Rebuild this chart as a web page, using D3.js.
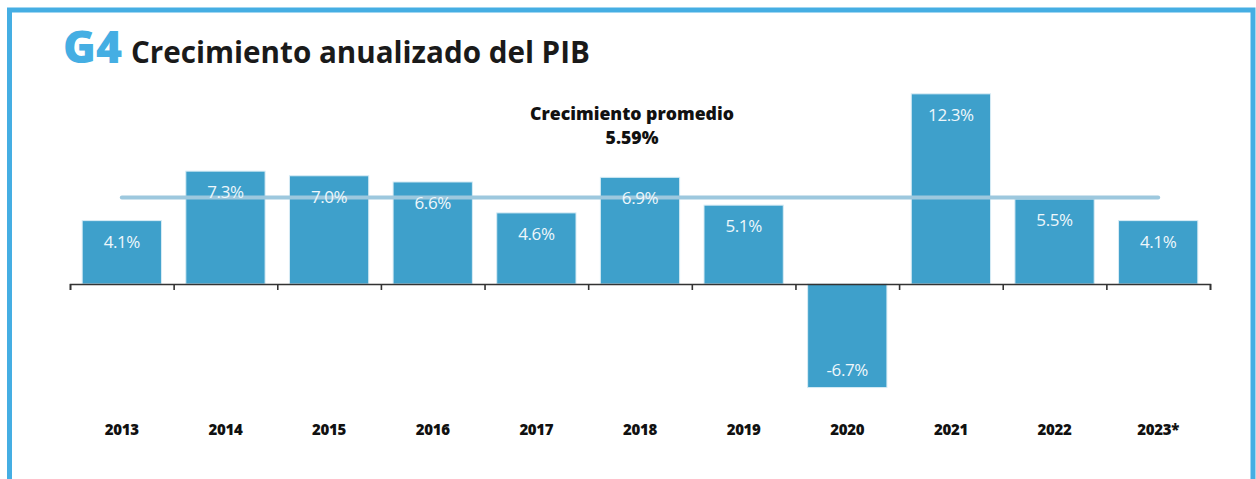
<!DOCTYPE html>
<html>
<head>
<meta charset="utf-8">
<script src="https://cdn.jsdelivr.net/npm/d3@7"></script>
<style>
  html, body { margin: 0; padding: 0; background: #fff; }
  svg { display: block; }
</style>
</head>
<body>
<div id="graf"></div>
<script>
// Data
const years = ["2013", "2014", "2015", "2016", "2017", "2018", "2019", "2020", "2021", "2022", "2023*"];
const growth = [4.1, 7.3, 7.0, 6.6, 4.6, 6.9, 5.1, -6.7, 12.3, 5.5, 4.1];
const average = 5.59;
const yDomain = [-6.7, 12.3];

const W = 1256, H = 479;
const FONT = "'Open Sans', Lato, sans-serif";
const svg = d3.select("#graf")
  .append("svg")
  .attr("width", W)
  .attr("height", H);

// shrink/grow a text's font size so it spans the wanted width
function fitWidth(sel, target) {
  const w = sel.node().getComputedTextLength();
  const fs = +sel.attr("font-size");
  sel.attr("font-size", (fs * target / w).toFixed(2));
}

// Frame
svg.append("path")
  .attr("d", `M9.5,${H + 5} L9.5,10 L1253,10 L1253,${H + 5}`)
  .attr("fill", "none")
  .attr("stroke", "#45aee3")
  .attr("stroke-width", 5);
svg.append("rect")
  .attr("x", 1251.5).attr("y", 10).attr("width", 3).attr("height", H)
  .attr("fill", "#45aee3");

// Title
const g4 = svg.append("text")
  .attr("x", 63).attr("y", 63)
  .attr("font-family", FONT)
  .attr("font-weight", 800)
  .attr("font-size", 38)
  .attr("fill", "#45aee3")
  .text("G4");
fitWidth(g4, 59);
const ttl = svg.append("text")
  .attr("x", 131).attr("y", 63)
  .attr("font-family", FONT)
  .attr("font-weight", 700)
  .attr("font-size", 26)
  .attr("fill", "#1a1a1a")
  .text("Crecimiento anualizado del PIB");
fitWidth(ttl, 459);

// Scales
const x = d3.scaleBand()
  .domain(years)
  .range([70, 1210])
  .paddingInner(0.235)
  .paddingOuter(0.1175);

const y = d3.scaleLinear()
  .domain(yDomain)
  .range([284 + 6.7 * 15.46, 284 - 12.3 * 15.46]);

// Bars
svg.append("g")
  .selectAll("rect")
  .data(growth)
  .join("rect")
  .attr("x", (d, i) => x(years[i]))
  .attr("y", d => y(Math.max(0, d)))
  .attr("width", x.bandwidth())
  .attr("height", d => Math.abs(y(d) - y(0)))
  .attr("fill", "#3ea0cb")
  .attr("stroke", "#d8ecf5")
  .attr("stroke-width", 1);

// Axis on zero line with ticks between bands
const axisScale = d3.scaleLinear().domain([0, years.length]).range([70, 1210]);
const axis = svg.append("g")
  .attr("transform", `translate(0,${y(0)})`)
  .call(d3.axisBottom(axisScale)
    .tickValues(d3.range(years.length + 1))
    .tickSize(6)
    .tickFormat(""));
axis.select(".domain").attr("stroke", "#333").attr("stroke-width", 1.6);
axis.selectAll(".tick line").attr("stroke", "#333").attr("stroke-width", 1.6);

// Average line
svg.append("line")
  .attr("x1", x(years[0]) + x.bandwidth() / 2)
  .attr("x2", x(years[years.length - 1]) + x.bandwidth() / 2)
  .attr("y1", y(average))
  .attr("y2", y(average))
  .attr("stroke", "#9dc8de")
  .attr("stroke-width", 4)
  .attr("stroke-linecap", "round");

// Value labels inside bars
svg.append("g")
  .selectAll("text")
  .data(growth)
  .join("text")
  .attr("x", (d, i) => x(years[i]) + x.bandwidth() / 2)
  .attr("y", d => d >= 0 ? y(d) + 27 : y(d) - 12)
  .attr("text-anchor", "middle")
  .attr("fill", "#eef7fb")
  .attr("font-family", FONT)
  .attr("font-size", 17)
  .attr("letter-spacing", -0.4)
  .text(d => d.toFixed(1) + "%");

// Year labels
svg.append("g")
  .selectAll("text")
  .data(years)
  .join("text")
  .attr("x", d => x(d) + x.bandwidth() / 2)
  .attr("y", 435)
  .attr("text-anchor", "middle")
  .attr("fill", "#111")
  .attr("font-family", FONT)
  .attr("font-weight", 800)
  .attr("font-size", 15)
  .attr("letter-spacing", -0.3)
  .text(d => d);

// Average annotation
const ann1 = svg.append("text")
  .attr("x", 632).attr("y", 120)
  .attr("text-anchor", "middle")
  .attr("fill", "#111")
  .attr("font-family", FONT)
  .attr("font-weight", 800)
  .attr("font-size", 16)
  .text("Crecimiento promedio");
fitWidth(ann1, 204);
svg.append("text")
  .attr("x", 632).attr("y", 144)
  .attr("text-anchor", "middle")
  .attr("fill", "#111")
  .attr("font-family", FONT)
  .attr("font-weight", 800)
  .attr("font-size", ann1.attr("font-size"))
  .text(average.toFixed(2) + "%");
</script>
</body>
</html>
